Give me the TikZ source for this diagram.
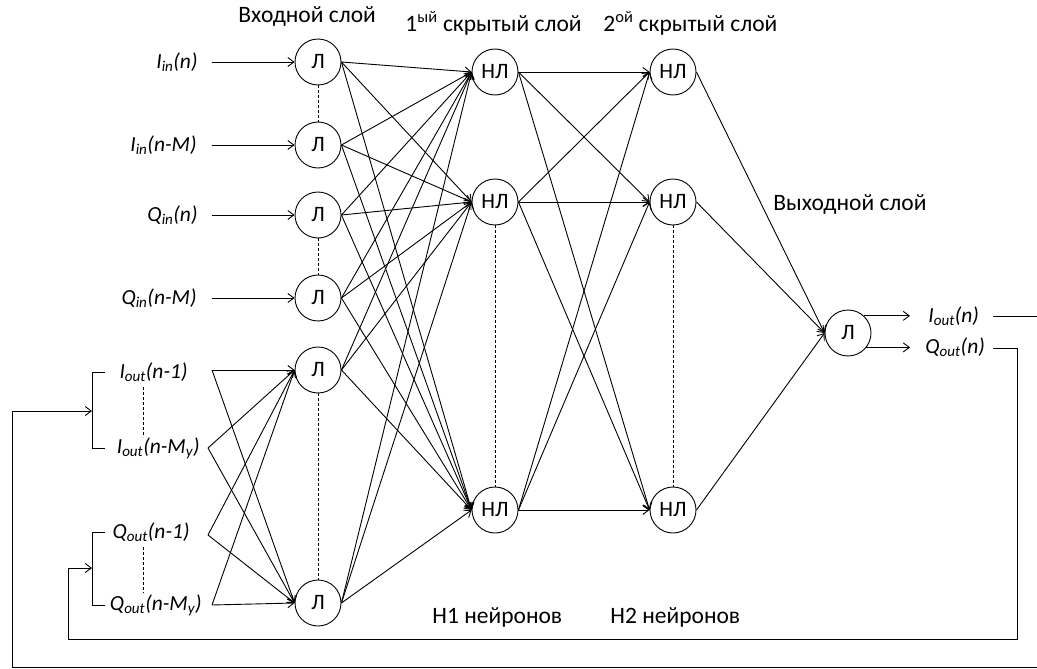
\documentclass[tikz,border=0pt]{standalone}
\usepackage{fontspec}
\setmainfont{Carlito}
\usetikzlibrary{arrows.meta}
\begin{document}
\begin{tikzpicture}[x=1pt,y=-1pt,line width=0.9pt,
  neuron/.style={circle,draw,minimum size=46pt,inner sep=0pt,font=\fontsize{22}{22}\selectfont},
  lbl/.style={font=\fontsize{21.5}{21.5}\selectfont\itshape,inner sep=0pt},
  hdr/.style={font=\fontsize{23.5}{23.5}\selectfont,inner sep=0pt,anchor=base west},
  conn/.style={-{Straight Barb[length=6pt,width=9pt]}},
  dotline/.style={dashed,dash pattern=on 3pt off 2pt,line width=0.8pt},
]
\useasboundingbox (0,0) rectangle (1037,669);
\clip (0,0) rectangle (1037,669);

% neurons
\foreach \n/\y in {1/62,2/145,3/215,4/298,5/370,6/603}
  \node[neuron] (i\n) at (318,\y) {Л};
\foreach \n/\y in {1/72,2/202,3/510}{
  \node[neuron] (a\n) at (495,\y) {НЛ};
  \node[neuron] (b\n) at (673,\y) {НЛ};}
\node[neuron] (o) at (848,333) {Л};

% headers
\node[hdr] (h0) at (238,23) {Входной слой};
\node[hdr] (h1) at (405,32) {1\textsuperscript{ый} скрытый слой};
\node[hdr] (h2) at (603,32) {2\textsuperscript{ой} скрытый слой};
\node[hdr] (h3) at (773,210) {Выходной слой};
\node[hdr] (n1) at (432,623) {Н1 нейронов};
\node[hdr] (n2) at (610,623) {Н2 нейронов};

% input labels
\node[lbl,anchor=east] (li1) at (198,62) {I\textsubscript{in}(n)};
\node[lbl,anchor=east] (li2) at (197,145) {I\textsubscript{in}(n-M)};
\node[lbl,anchor=east] (li3) at (198,215) {Q\textsubscript{in}(n)};
\node[lbl,anchor=east] (li4) at (197,298) {Q\textsubscript{in}(n-M)};
\foreach \n in {1,...,4}
  \draw[conn] (212,0 |- li\n.east) coordinate (s\n) -- (i\n.west);

% feedback labels
\node[lbl,anchor=east] (lf1) at (188,372) {I\textsubscript{out}(n-1)};
\node[lbl,anchor=east] (lf2) at (200,448) {I\textsubscript{out}(n-M\textsubscript{y})};
\node[lbl,anchor=east] (lf3) at (190,532) {Q\textsubscript{out}(n-1)};
\node[lbl,anchor=east] (lf4) at (202,605) {Q\textsubscript{out}(n-M\textsubscript{y})};
\coordinate (f1) at (212,370);
\coordinate (f2) at (208,448);
\coordinate (f3) at (208,535);
\coordinate (f4) at (212,605);
\foreach \f in {1,...,4}
  \foreach \t in {5,6}
    \draw[conn] (f\f) -- (i\t.west);

% brackets
\draw (105,372) -- (92,372) -- (92,448) -- (105,448);
\draw (105,532) -- (92,532) -- (92,605) -- (105,605);
\draw[dotline] (143,387) -- (143,437);
\draw[dotline] (143,547) -- (143,593);

% dashed columns
\draw[dotline] (i1.south) -- (i2.north);
\draw[dotline] (i3.south) -- (i4.north);
\draw[dotline] (i5.south) -- (i6.north);
\draw[dotline] (a2.south) -- (a3.north);
\draw[dotline] (b2.south) -- (b3.north);

% full connections
\foreach \s in {1,...,6}
  \foreach \t in {1,2,3}
    \draw[conn] (i\s.east) -- (a\t.west);
\foreach \s in {1,2,3}
  \foreach \t in {1,2,3}
    \draw[conn] (a\s.east) -- (b\t.west);
\foreach \s in {1,2,3}
  \draw[conn] (b\s.east) -- (o.west);

% outputs
\coordinate (ox) at (910,0);
\draw[conn] (o.47) -- (o.47 -| ox);
\draw[conn] (o.-38) -- (o.-38 -| ox);
\node[lbl,anchor=west] (lo1) at (928,316) {I\textsubscript{out}(n)};
\node[lbl,anchor=west] (lo2) at (925,347) {Q\textsubscript{out}(n)};

% feedback loops
\coordinate (r1) at (993,316);
\coordinate (r2) at (993,348);
\coordinate (q1) at (92,411);
\coordinate (q2) at (92,568);
\draw[conn] (r1) -- (1045,316) -- (1045,667) -- (12,667) -- (12,0 |- q1) -- (q1);
\draw[conn] (r2) -- (1017,348) -- (1017,639) -- (68,639) -- (68,0 |- q2) -- (q2);
\end{tikzpicture}
\end{document}
